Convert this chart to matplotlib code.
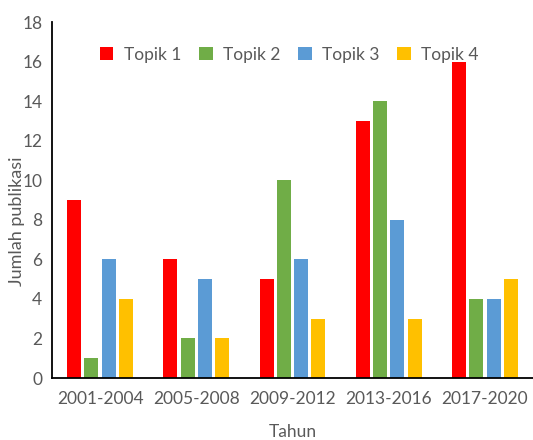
import numpy as np
import matplotlib.pyplot as plt

# data jumlah publikasi per periode
periode = ["2001-2004", "2005-2008", "2009-2012", "2013-2016", "2017-2020"]
topik1 = [9, 6, 5, 13, 16]
topik2 = [1, 2, 10, 14, 4]
topik3 = [6, 5, 6, 8, 4]
topik4 = [4, 2, 3, 3, 5]

seri = [topik1, topik2, topik3, topik4]
nama = ["Topik 1", "Topik 2", "Topik 3", "Topik 4"]
warna = ["#FF0000", "#70AD47", "#5B9BD5", "#FFC000"]

plt.rcParams["font.family"] = ["Lato", "DejaVu Sans"]
abu = "#595959"

fig = plt.figure(figsize=(5.33, 4.4), dpi=100)
ax = fig.add_axes([52 / 533, 62 / 440, 481 / 533, 356 / 440])

x = np.arange(len(periode))
lebar = 0.145
jarak = 0.18
for i, (nilai, lbl, c) in enumerate(zip(seri, nama, warna)):
    ax.bar(x + (i - 1.5) * jarak, nilai, width=lebar, color=c, label=lbl)

ax.set_xlim(-0.5, len(periode) - 0.5)
ax.set_ylim(0, 18)
ax.set_yticks(range(0, 19, 2))
ax.set_xticks(x)
ax.set_xticklabels(periode)
ax.tick_params(axis="both", length=0, labelsize=12.5, colors=abu)
ax.tick_params(axis="y", pad=7)
ax.tick_params(axis="x", pad=9)

for s in ["top", "right"]:
    ax.spines[s].set_visible(False)
ax.spines["left"].set_color("black")
ax.spines["bottom"].set_color("black")
ax.spines["left"].set_linewidth(1.3)
ax.spines["bottom"].set_linewidth(1.3)

ax.set_xlabel("Tahun", fontsize=12.5, color=abu)
ax.xaxis.set_label_coords(0.5, -0.13)
ax.set_ylabel("Jumlah publikasi", fontsize=13, color=abu)
ax.yaxis.set_label_coords(-0.056, 0.44)

ax.legend(loc="upper center", bbox_to_anchor=(0.493, 0.975), ncol=4, frameon=False,
          fontsize=12.5, labelcolor=abu, handlelength=0.8, handleheight=0.8,
          handletextpad=0.6, columnspacing=1.0)

fig.savefig("out.png", dpi=100)
